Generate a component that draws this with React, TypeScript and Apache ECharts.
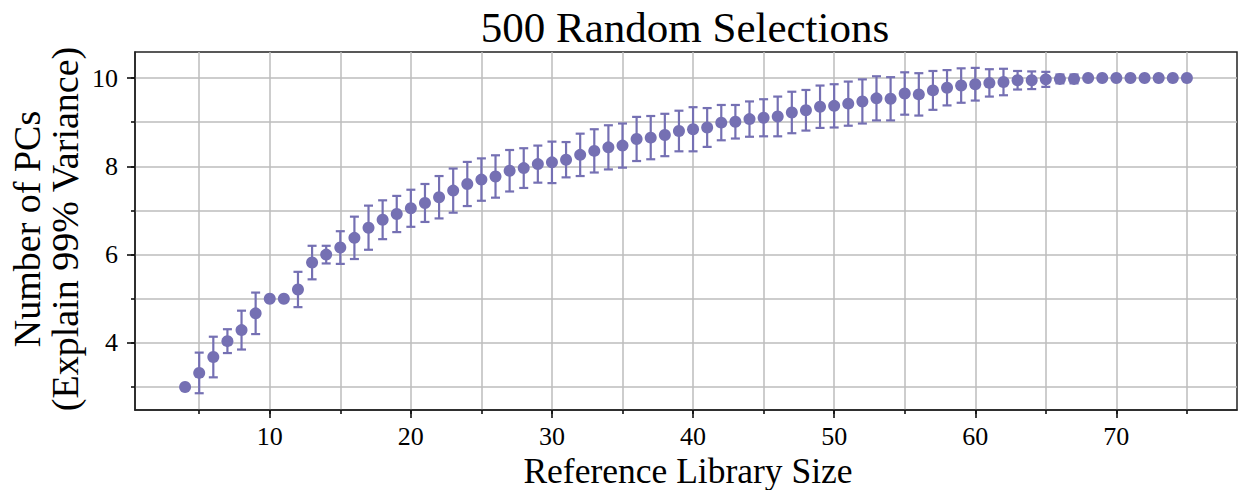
import React, { useEffect, useRef } from "react";
import * as echarts from "echarts";

// Reference library sizes (x) and the number of PCs needed to explain 99% variance
const sizes: number[] = [
  4, 5, 6, 7, 8, 9, 10, 11, 12, 13, 14, 15, 16, 17, 18, 19, 20, 21, 22, 23, 24, 25,
  26, 27, 28, 29, 30, 31, 32, 33, 34, 35, 36, 37, 38, 39, 40, 41, 42, 43, 44, 45,
  46, 47, 48, 49, 50, 51, 52, 53, 54, 55, 56, 57, 58, 59, 60, 61, 62, 63, 64, 65,
  66, 67, 68, 69, 70, 71, 72, 73, 74, 75,
];

const meanPCs: number[] = [
  3.0, 3.32, 3.68, 4.04, 4.29, 4.67, 5.0, 5.0, 5.21, 5.82, 6.0, 6.16, 6.38, 6.61,
  6.79, 6.92, 7.05, 7.17, 7.3, 7.45, 7.6, 7.7, 7.77, 7.9, 7.96, 8.05, 8.09, 8.15,
  8.26, 8.35, 8.43, 8.47, 8.62, 8.65, 8.71, 8.8, 8.84, 8.88, 8.99, 9.01, 9.07, 9.1,
  9.13, 9.22, 9.27, 9.35, 9.37, 9.42, 9.47, 9.54, 9.53, 9.65, 9.63, 9.72, 9.78,
  9.83, 9.86, 9.89, 9.91, 9.95, 9.95, 9.97, 9.98, 9.98, 10.0, 10.0, 10.0, 10.0,
  10.0, 10.0, 10.0, 10.0,
];

// Standard deviation across the 500 random selections
const stdPCs: number[] = [
  0.0, 0.46, 0.46, 0.27, 0.44, 0.47, 0.0, 0.0, 0.4, 0.38, 0.2, 0.37, 0.48, 0.5,
  0.44, 0.41, 0.42, 0.43, 0.48, 0.5, 0.5, 0.48, 0.48, 0.47, 0.45, 0.42, 0.47, 0.4,
  0.48, 0.49, 0.5, 0.5, 0.5, 0.49, 0.48, 0.46, 0.5, 0.44, 0.4, 0.38, 0.4, 0.42,
  0.45, 0.47, 0.46, 0.48, 0.49, 0.5, 0.5, 0.5, 0.49, 0.48, 0.48, 0.44, 0.4, 0.39,
  0.37, 0.31, 0.3, 0.21, 0.2, 0.17, 0.1, 0.1, 0.0, 0.0, 0.0, 0.0, 0.0, 0.0, 0.0,
  0.0,
];

const xMinorTicks: number[] = [5, 10, 15, 20, 25, 30, 35, 40, 45, 50, 55, 60, 65, 70, 75];
const xMajorTicks: number[] = [10, 20, 30, 40, 50, 60, 70];
const yMinorTicks: number[] = [3, 4, 5, 6, 7, 8, 9, 10];
const yMajorTicks: number[] = [4, 6, 8, 10];

const TITLE = "500 Random Selections";
const X_NAME = "Reference Library Size";
const Y_NAME_1 = "Number of PCs";
const Y_NAME_2 = "(Explain 99% Variance)";

const PURPLE = "#7570b3";
const SERIF = "Liberation Serif";
const X_RANGE = [0.45, 78.55];
const Y_RANGE = [2.48, 10.59];

export default function App() {
  const ref = useRef<HTMLDivElement>(null);

  useEffect(() => {
    if (!ref.current) return;
    const chart = echarts.init(ref.current, undefined, { renderer: "svg" });

    const points = sizes.map((s, i) => [s, meanPCs[i]]);
    const bars = sizes.map((s, i) => [s, meanPCs[i] - stdPCs[i], meanPCs[i] + stdPCs[i], stdPCs[i]]);

    const tickStyle = { color: "#111", width: 1.6 };
    const gridStyle = { color: "#bdbdbd", width: 1.5 };

    chart.setOption({
      animation: false,
      backgroundColor: "#fff",
      grid: {
        left: 135,
        right: 1,
        top: 52,
        bottom: 80,
        show: true,
        borderColor: "#222",
        borderWidth: 1.5,
        backgroundColor: "transparent",
      },
      xAxis: [
        {
          // main axis: labelled major ticks
          type: "value",
          min: X_RANGE[0],
          max: X_RANGE[1],
          position: "bottom",
          axisLine: { show: true, onZero: false, lineStyle: { color: "#222", width: 1.5 } },
          axisTick: { show: true, customValues: xMajorTicks, length: 8, lineStyle: tickStyle },
          axisLabel: {
            show: true,
            customValues: xMajorTicks,
            margin: 13,
            color: "#000",
            fontSize: 26,
            fontFamily: SERIF,
          },
          splitLine: { show: false },
        },
        {
          // companion axis: short ticks and grid every 5
          type: "value",
          min: X_RANGE[0],
          max: X_RANGE[1],
          position: "bottom",
          axisLine: { show: false, onZero: false },
          axisTick: { show: true, customValues: xMinorTicks, length: 4, lineStyle: tickStyle },
          axisLabel: { show: false },
          splitLine: { show: true, lineStyle: gridStyle },
        },
      ],
      yAxis: [
        {
          type: "value",
          min: Y_RANGE[0],
          max: Y_RANGE[1],
          position: "left",
          axisLine: { show: true, onZero: false, lineStyle: { color: "#222", width: 1.5 } },
          axisTick: { show: true, customValues: yMajorTicks, length: 8, lineStyle: tickStyle },
          axisLabel: {
            show: true,
            customValues: yMajorTicks,
            margin: 17,
            color: "#000",
            fontSize: 26,
            fontFamily: SERIF,
          },
          splitLine: { show: false },
        },
        {
          type: "value",
          min: Y_RANGE[0],
          max: Y_RANGE[1],
          position: "left",
          axisLine: { show: false, onZero: false },
          axisTick: { show: true, customValues: yMinorTicks, length: 4, lineStyle: tickStyle },
          axisLabel: { show: false },
          splitLine: { show: true, lineStyle: gridStyle },
        },
      ],
      graphic: [
        {
          type: "text",
          x: 685,
          y: 27,
          style: { text: TITLE, font: `43px ${SERIF}`, fill: "#000", textAlign: "center", textVerticalAlign: "middle" },
        },
        {
          type: "text",
          x: 688,
          y: 471,
          style: { text: X_NAME, font: `35.5px ${SERIF}`, fill: "#000", textAlign: "center", textVerticalAlign: "middle" },
        },
        {
          type: "text",
          x: 27,
          y: 229,
          rotation: Math.PI / 2,
          style: { text: Y_NAME_1, font: `38px ${SERIF}`, fill: "#000", textAlign: "center", textVerticalAlign: "middle" },
        },
        {
          type: "text",
          x: 65,
          y: 229,
          rotation: Math.PI / 2,
          style: { text: Y_NAME_2, font: `38px ${SERIF}`, fill: "#000", textAlign: "center", textVerticalAlign: "middle" },
        },
      ],
      series: [
        {
          type: "custom",
          xAxisIndex: 0,
          yAxisIndex: 0,
          data: bars,
          encode: { x: 0, y: [1, 2] },
          z: 3,
          renderItem: (_params: any, api: any) => {
            if (api.value(3) <= 0) return { type: "group", children: [] };
            const x = api.value(0);
            const lo = api.coord([x, api.value(1)]);
            const hi = api.coord([x, api.value(2)]);
            const hw = 4.5;
            const style = { stroke: PURPLE, lineWidth: 2.2 };
            return {
              type: "group",
              children: [
                { type: "line", shape: { x1: hi[0], y1: hi[1], x2: lo[0], y2: lo[1] }, style },
                { type: "line", shape: { x1: hi[0] - hw, y1: hi[1], x2: hi[0] + hw, y2: hi[1] }, style },
                { type: "line", shape: { x1: lo[0] - hw, y1: lo[1], x2: lo[0] + hw, y2: lo[1] }, style },
              ],
            };
          },
        },
        {
          type: "scatter",
          xAxisIndex: 0,
          yAxisIndex: 0,
          data: points,
          symbol: "circle",
          symbolSize: 12,
          itemStyle: { color: PURPLE, opacity: 1 },
          z: 4,
        },
      ],
    });

    return () => chart.dispose();
  }, []);

  return (
    <div
      ref={ref}
      style={{ position: "fixed", left: 0, top: 0, width: 1238, height: 490, background: "#fff" }}
    />
  );
}
